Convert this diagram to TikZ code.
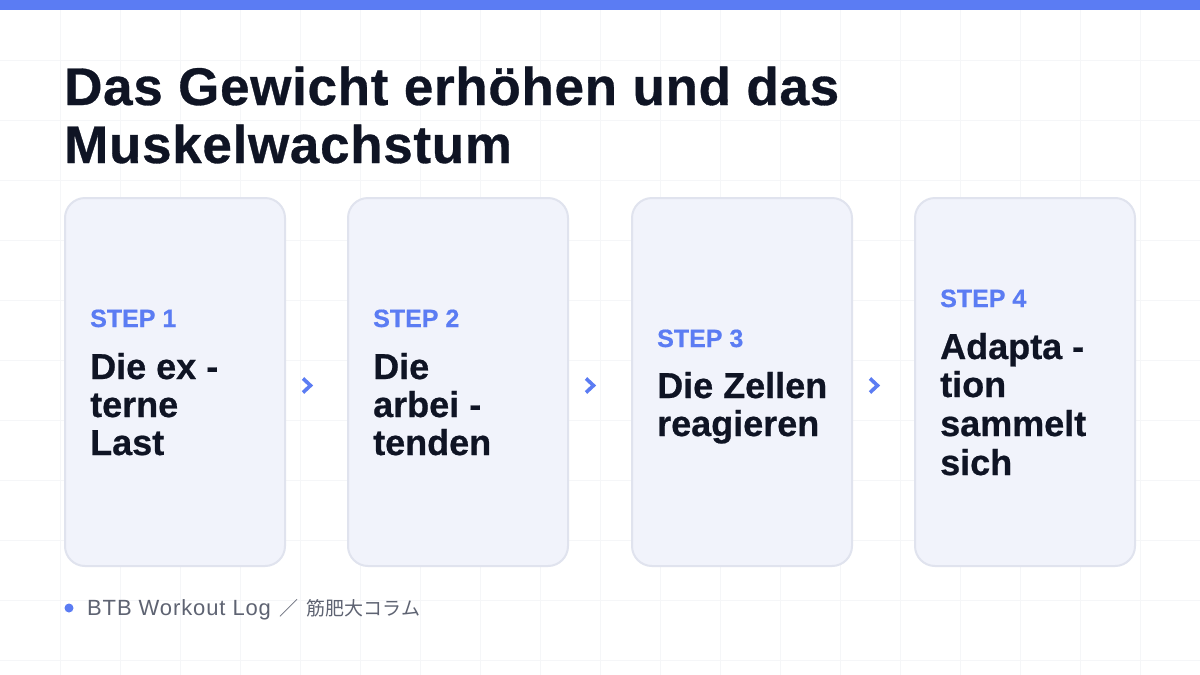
\documentclass[tikz,border=0pt]{standalone}
\usepackage{fontspec}
\setmainfont{Liberation Sans}[BoldFeatures={FakeBold=0.6}]
\newfontfamily\cjk{Noto Sans CJK JP}
\newfontfamily\footfont{Liberation Sans}[LetterSpace=4]
\newfontfamily\titlefont{Liberation Sans Bold}[FakeBold=0.6, LetterSpace=1.3]
\definecolor{accent}{HTML}{5B7CF3}
\definecolor{ink}{HTML}{0F1424}
\definecolor{gridc}{HTML}{F5F6F8}
\definecolor{cardfill}{HTML}{F1F3FB}
\definecolor{cardline}{HTML}{E0E3EE}
\definecolor{foot}{HTML}{5E6372}
\tikzset{
  card/.style={draw=cardline, line width=2pt, fill=cardfill, rounded corners=20pt,
    minimum width=220pt, minimum height=368pt, inner sep=0pt},
  steplabel/.style={anchor=base west, inner sep=0pt, text=accent, font=\fontsize{25}{30}\selectfont\bfseries},
  cardtext/.style={anchor=base west, inner sep=0pt, text=ink, font=\fontsize{36}{40}\selectfont\bfseries},
  titletext/.style={anchor=base west, inner sep=0pt, text=ink, font=\titlefont\fontsize{53}{60}\selectfont},
  chevline/.style={draw=accent, line width=3.6pt, line cap=butt, line join=miter}
}
\begin{document}
\begin{tikzpicture}[x=1pt,y=-1pt]
\useasboundingbox (0,0) rectangle (1200,675);
\fill[white] (0,0) rectangle (1200,675);
\foreach \x in {60,120,...,1140} \draw[gridc, line width=1pt] (\x,0) -- (\x,675);
\foreach \y in {60,120,...,660} \draw[gridc, line width=1pt] (0,\y) -- (1200,\y);
\fill[accent] (0,0) rectangle (1200,10);
% title
\node[titletext] (t1) at (64,105) {Das Gewicht erhöhen und das};
\node[titletext] (t2) at (64,163) {Muskelwachstum};
% cards
\node[card] (c1) at (175,382) {};
\node[card] (c2) at (458,382) {};
\node[card] (c3) at (742,382) {};
\node[card] (c4) at (1025,382) {};
% card 1
\node[steplabel] (s1) at (90,327) {STEP 1};
\node[cardtext] (c1a) at (90,379) {Die ex -};
\node[cardtext] (c1b) at (90,417) {terne};
\node[cardtext] (c1c) at (90,455) {Last};
% card 2
\node[steplabel] (s2) at (373,327) {STEP 2};
\node[cardtext] (c2a) at (373,379) {Die};
\node[cardtext] (c2b) at (373,417) {arbei -};
\node[cardtext] (c2c) at (373,455) {tenden};
% card 3
\node[steplabel] (s3) at (657,347) {STEP 3};
\node[cardtext] (c3a) at (657,398) {Die Zellen};
\node[cardtext] (c3b) at (657,436) {reagieren};
% card 4
\node[steplabel] (s4) at (940,307) {STEP 4};
\node[cardtext] (c4a) at (940,359) {Adapta -};
\node[cardtext] (c4b) at (940,397) {tion};
\node[cardtext] (c4c) at (940,436) {sammelt};
\node[cardtext] (c4d) at (940,475) {sich};
% chevrons
\foreach \cx in {307,590,874}
  \draw[chevline] (\cx-4,378.5) -- (\cx+3.5,385.5) -- (\cx-4,392.5);
% footer
\fill[accent] (69,608) circle (4.5pt);
\node[anchor=base west, inner sep=0pt, text=foot, font=\footfont\fontsize{22}{24}\selectfont] (ft) at (87,615) {BTB Workout Log\hspace{9pt}{\cjk\fontsize{19}{24}\selectfont ／\kern8pt 筋肥大コラム}};
\end{tikzpicture}
\end{document}
